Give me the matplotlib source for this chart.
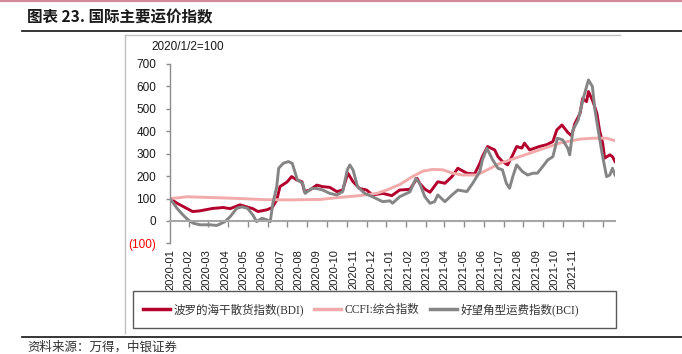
import matplotlib
matplotlib.use('Agg')
import matplotlib.pyplot as plt
import matplotlib.dates as mdates
import matplotlib.transforms as mtransforms
from matplotlib.lines import Line2D
from matplotlib.patches import Rectangle
import numpy as np
import pandas as pd

plt.rcParams['font.family'] = ['Liberation Sans', 'Noto Sans CJK SC']

# ---------------- data (2020/1/2 = 100) ----------------
bdi_dates = ['2020-01-02', '2020-01-13', '2020-02-06', '2020-02-17', '2020-03-08', '2020-03-24',
             '2020-04-04', '2020-04-19', '2020-05-09', '2020-05-17', '2020-05-31', '2020-06-08',
             '2020-06-15', '2020-06-20', '2020-07-01', '2020-07-08', '2020-07-16', '2020-07-24',
             '2020-07-28', '2020-08-05', '2020-08-16', '2020-08-25', '2020-09-05', '2020-09-16',
             '2020-09-25', '2020-10-03', '2020-10-11', '2020-10-21', '2020-11-01', '2020-11-10',
             '2020-11-26', '2020-12-10', '2020-12-22', '2021-01-07', '2021-01-18', '2021-01-22',
             '2021-01-30', '2021-02-07', '2021-02-19', '2021-03-02', '2021-03-13', '2021-03-22',
             '2021-04-05', '2021-04-17', '2021-04-25', '2021-04-29', '2021-05-07', '2021-05-18',
             '2021-05-23', '2021-05-30', '2021-06-07', '2021-06-15', '2021-06-21', '2021-06-29',
             '2021-07-03', '2021-07-11', '2021-07-19', '2021-07-26', '2021-08-06', '2021-08-16',
             '2021-08-22', '2021-08-30', '2021-09-08', '2021-09-14', '2021-09-19', '2021-09-27',
             '2021-10-01', '2021-10-07', '2021-10-10', '2021-10-17', '2021-10-23', '2021-10-27',
             '2021-11-01', '2021-11-04', '2021-11-12', '2021-11-16', '2021-11-20']
bdi_values = [100, 79, 42, 45, 56, 60,
              55, 72, 55, 42, 50, 60,
              93, 153, 174, 198, 183, 175,
              131, 138, 160, 153, 150, 131,
              138, 213, 175, 145, 138, 116,
              123, 113, 138, 141, 190, 168,
              142, 128, 175, 168, 198, 235,
              213, 210, 257, 287, 332, 317,
              287, 265, 250, 295, 332, 325,
              347, 317, 325, 332, 340, 354,
              406, 428, 395, 380, 435, 480,
              547, 532, 577, 532, 480, 406,
              346, 280, 295, 287, 265]

ccfi_dates = ['2020-01-02', '2020-01-17', '2020-01-28', '2020-03-11', '2020-04-11', '2020-05-27',
              '2020-07-05', '2020-08-21', '2020-09-20', '2020-10-21', '2020-11-17', '2020-12-02',
              '2020-12-22', '2021-01-11', '2021-01-27', '2021-02-11', '2021-02-27', '2021-03-14',
              '2021-03-29', '2021-04-20', '2021-05-06', '2021-05-26', '2021-06-26', '2021-07-26',
              '2021-08-26', '2021-09-27', '2021-10-17', '2021-11-07', '2021-11-20']
ccfi_values = [100, 104, 108, 104, 101, 95,
               94, 96, 105, 113, 123, 138,
               162, 198, 222, 230, 228, 213,
               205, 205, 227, 257, 287, 317,
               347, 365, 369, 369, 358]

bci_dates = ['2020-01-02', '2020-01-13', '2020-01-22', '2020-01-30', '2020-02-07', '2020-02-17',
             '2020-03-04', '2020-03-14', '2020-03-19', '2020-03-27', '2020-04-04', '2020-04-14',
             '2020-04-22', '2020-05-01', '2020-05-09', '2020-05-15', '2020-05-23', '2020-05-31',
             '2020-06-05', '2020-06-09', '2020-06-15', '2020-06-18', '2020-06-25', '2020-07-03',
             '2020-07-09', '2020-07-17', '2020-07-25', '2020-07-29', '2020-08-08', '2020-08-16',
             '2020-08-25', '2020-09-05', '2020-09-16', '2020-09-25', '2020-10-02', '2020-10-06',
             '2020-10-11', '2020-10-18', '2020-10-29', '2020-11-10', '2020-11-26', '2020-12-07',
             '2020-12-11', '2020-12-22', '2021-01-07', '2021-01-16', '2021-01-22', '2021-01-30',
             '2021-02-07', '2021-02-14', '2021-02-19', '2021-03-02', '2021-03-13', '2021-03-22',
             '2021-04-05', '2021-04-14', '2021-04-25', '2021-04-29', '2021-05-06', '2021-05-15',
             '2021-05-23', '2021-05-30', '2021-06-05', '2021-06-10', '2021-06-15', '2021-06-21',
             '2021-06-30', '2021-07-08', '2021-07-16', '2021-07-23', '2021-07-31', '2021-08-08',
             '2021-08-16', '2021-08-23', '2021-08-31', '2021-09-08', '2021-09-11', '2021-09-16',
             '2021-09-24', '2021-10-02', '2021-10-10', '2021-10-16', '2021-10-20', '2021-10-25',
             '2021-10-31', '2021-11-04', '2021-11-07', '2021-11-12', '2021-11-16', '2021-11-20']
bci_values = [100, 56, 27, 5, -10, -17,
              -17, -20, -14, -3, 19, 56,
              63, 56, 27, -3, 12, 5,
              -3, 79, 153, 235, 257, 265,
              257, 183, 168, 123, 145, 145,
              138, 123, 116, 131, 227, 250,
              227, 153, 123, 108, 86, 90,
              79, 108, 130, 190, 168, 108,
              79, 86, 116, 86, 116, 138,
              131, 168, 220, 272, 324, 272,
              235, 228, 168, 146, 198, 250,
              220, 205, 213, 213, 242, 272,
              287, 369, 362, 324, 295, 406,
              450, 547, 629, 600, 495, 406,
              302, 242, 198, 205, 235, 205]

series_names = ['波罗的海干散货指数(BDI)', 'CCFI:综合指数', '好望角型运费指数(BCI)']
month_labels = ['2020-01', '2020-02', '2020-03', '2020-04', '2020-05', '2020-06', '2020-07',
                '2020-08', '2020-09', '2020-10', '2020-11', '2020-12', '2021-01', '2021-02',
                '2021-03', '2021-04', '2021-05', '2021-06', '2021-07', '2021-08', '2021-09',
                '2021-10', '2021-11']
y_ticks = [-100, 0, 100, 200, 300, 400, 500, 600, 700]
y_labels = ['(100)', '0', '100', '200', '300', '400', '500', '600', '700']

# ---------------- layout ----------------
W, H = 682, 354
def fx(px): return px / W
def fy(py): return 1 - py / H

fig = plt.figure(figsize=(W / 100, H / 100), dpi=100)
ax = fig.add_axes([fx(170), fy(243.4), (615 - 170) / W, (243.4 - 64) / H])

c_bdi = '#B3002D'
c_ccfi = '#F2AAAA'
c_bci = '#858585'
axis_gray = '#8C8C8C'

l1, = ax.plot(pd.to_datetime(bdi_dates), bdi_values, color=c_bdi, lw=2.1, solid_joinstyle='round')
l2, = ax.plot(pd.to_datetime(ccfi_dates), ccfi_values, color=c_ccfi, lw=2.1, solid_joinstyle='round')
l3, = ax.plot(pd.to_datetime(bci_dates), bci_values, color=c_bci, lw=2.1, solid_joinstyle='round')

start = pd.Timestamp('2020-01-02')
end = pd.Timestamp('2021-11-20')
ax.set_xlim(start, end)
ax.set_ylim(-100, 700)

for s in ['top', 'right']:
    ax.spines[s].set_visible(False)
ax.spines['left'].set_color(axis_gray)
ax.spines['left'].set_linewidth(1.0)
ax.spines['bottom'].set_position(('data', 0))
ax.spines['bottom'].set_color('#A6A6A6')
ax.spines['bottom'].set_linewidth(1.5)

# y axis
ax.set_yticks(y_ticks)
ax.set_yticklabels(y_labels)
ax.tick_params(axis='y', direction='out', length=3, width=1, color=axis_gray,
               labelsize=8.5, pad=7, labelcolor='#1a1a1a')
ax.get_yticklabels()[0].set_color('#FF0000')

# x axis tick marks at month starts on the zero line
month_starts = pd.date_range('2020-02-01', '2021-11-01', freq='MS')
ax.set_xticks(mdates.date2num(month_starts))
ax.set_xticklabels([])
ax.tick_params(axis='x', direction='out', length=4, width=1, color=axis_gray)

# month labels along the bottom of the plot area (evenly spread, as in the source chart)
s0 = mdates.date2num(start)
label_pos = s0 + 0.2 + 28.3 * np.arange(len(month_labels))
trans = mtransforms.blended_transform_factory(ax.transData, ax.transAxes) + \
    mtransforms.ScaledTranslation(0, -4 / 72, fig.dpi_scale_trans)
for xp, lab in zip(label_pos, month_labels):
    ax.text(xp, 0, lab, transform=trans, rotation=90, ha='center', va='top',
            fontsize=8, color='#1a1a1a', clip_on=False)

fig.text(fx(151), fy(47), '2020/1/2=100', fontsize=8.5, va='center', ha='left', color='#1a1a1a')

# legend
leg = fig.legend([l1, l2, l3], series_names, loc='center left',
                 bbox_to_anchor=(fx(143), fy(309.5)), ncol=3, frameon=False,
                 borderpad=0, borderaxespad=0, handlelength=2.3, handletextpad=0.35,
                 columnspacing=0.9,
                 prop={'family': ['Liberation Serif', 'Noto Sans CJK SC'], 'size': 8.3})
for t in leg.get_texts():
    t.set_color('#333333')
for h in leg.legend_handles:
    h.set_linewidth(2.5)
fig.add_artist(Rectangle((fx(133), fy(328)), (616 - 133) / W, (328 - 291) / H,
                         transform=fig.transFigure, fill=False, edgecolor='#595959', lw=1.0))

# page decorations
fig.add_artist(Line2D([0, 1], [fy(0.8), fy(0.8)], transform=fig.transFigure, color='#D4899A', lw=1.6))
fig.add_artist(Line2D([fx(22), 1], [fy(31), fy(31)], transform=fig.transFigure, color='#262626', lw=1.3))
fig.add_artist(Line2D([fx(22), 1], [fy(337), fy(337)], transform=fig.transFigure, color='#262626', lw=1.3))
fig.add_artist(Line2D([fx(125), fx(620)], [fy(35), fy(35)], transform=fig.transFigure, color='#BFBFBF', lw=1.0))
fig.add_artist(Line2D([fx(125), fx(125)], [fy(35), fy(333)], transform=fig.transFigure, color='#BFBFBF', lw=1.0))

fig.text(fx(27), fy(17.5), '图表 23. 国际主要运价指数', fontsize=11.2, fontweight='bold', va='center',
         ha='left', family=['Noto Sans CJK SC', 'Liberation Sans'], color='#1a1a1a')
fig.text(fx(27), fy(347), '资料来源：万得，中银证券', fontsize=9, va='center', ha='left',
         family=['Noto Sans CJK SC', 'Liberation Sans'], color='#333333')

fig.savefig('out.png', dpi=100)
